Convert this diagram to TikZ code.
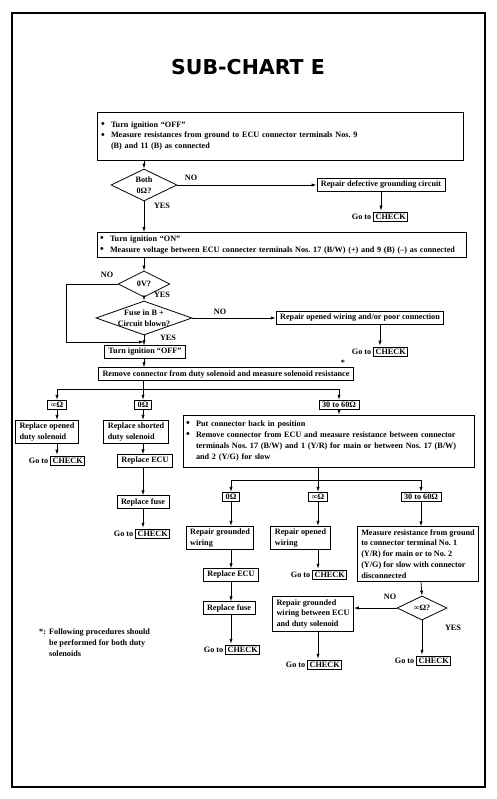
\documentclass[tikz,border=0pt]{standalone}
\usepackage{fontspec}
\setmainfont{Liberation Serif}
\newfontfamily\titlefont{DejaVu Sans}
\usetikzlibrary{arrows.meta,positioning,shapes.geometric,calc}
\newcommand\chartfont{\fontsize{8.2}{10.9}\selectfont\bfseries}
\newcommand\blt{\makebox[10pt][l]{\raisebox{-0.3pt}{\scalebox{1.3}{\textbullet}}}}
\newcommand\bltind{\hspace*{10pt}}
\setlength\fboxsep{1.5pt}
\setlength\fboxrule{0.8pt}
\frenchspacing
\tikzset{
  stepbox/.style={
    rectangle, draw, line width=0.8pt, font=\chartfont,
    align=left, inner xsep=4pt, inner ysep=2.5pt
  },
  valbox/.style={
    rectangle, draw, line width=0.8pt, font=\chartfont,
    inner xsep=3pt, inner ysep=2pt
  },
  decision/.style={
    diamond, draw, line width=0.8pt, font=\chartfont,
    align=center, inner sep=-3pt, aspect=#1
  },
  decision/.default=2.5,
  gotonode/.style={font=\chartfont, inner sep=1pt},
  lbl/.style={font=\chartfont, inner sep=1pt},
  arr/.style={-{Latex[length=5pt,width=3.2pt]}, line width=0.7pt},
}

\begin{document}
\begin{tikzpicture}[x=1pt,y=-1pt]
  \useasboundingbox (0,0) rectangle (496,799);
  \draw[line width=2.8pt] (12,13) rectangle (485,787);
  \node[font=\titlefont\bfseries\fontsize{20.5}{24}\selectfont] (title) at (248,67) {SUB-CHART E};

  % ground check
  \node[stepbox, text width=358pt, minimum height=48pt] (gndmeas) at (280,136) {%
    \blt Turn ignition “OFF”\\
    \blt Measure resistances from ground to ECU connector terminals Nos. 9\\
    \bltind (B) and 11 (B) as connected};
  \node[decision=2, minimum width=66pt, minimum height=32pt] (both) at (144,185) {Both\\0Ω?};
  \node[stepbox] (gndfix) at (381,185) {Repair defective grounding circuit};
  \node[gotonode] (goto1) at (380,217) {Go to \fbox{CHECK}};
  \node[lbl] (no1) at (191,178) {NO};
  \node[lbl] (yes1) at (162,206) {YES};

  \draw[arr] (gndmeas.south -| both) -- (both.north);
  \draw[arr] (both.east) -- (gndfix.west);
  \draw[arr] (gndfix.south) -- (gndfix.south |- goto1.north);

  % voltage check
  \node[stepbox, inner xsep=3pt, text width=363pt, minimum height=25pt] (volt) at (281.5,245) {%
    \blt Turn ignition “ON”\\
    \blt Measure voltage between ECU connecter terminals Nos. 17 (B/W) (+) and 9 (B) (–) as connected};
  \node[decision=2, minimum width=52pt, minimum height=26pt] (zerov) at (144,284) {0V?};
  \node[decision=2.8, minimum width=96pt, minimum height=34pt] (fuse) at (144,318) {Fuse in B +\\Circuit blown?};
  \node[stepbox] (openfix) at (360,318) {Repair opened wiring and/or poor connection};
  \node[gotonode] (goto2) at (380,352) {Go to \fbox{CHECK}};
  \node[stepbox] (ignoff) at (145,352) {Turn ignition “OFF”};
  \coordinate (loopend) at (144,342);
  \node[lbl] (no2) at (107,275) {NO};
  \node[lbl] (yes2) at (162,295) {YES};
  \node[lbl] (no3) at (220,312) {NO};
  \node[lbl] (yes3) at (168,338) {YES};

  \draw[arr] (both.south) -- (both.south |- volt.north);
  \draw[arr] (volt.south -| zerov) -- (zerov.north);
  \draw[arr] (zerov.south) -- (fuse.north);
  \draw[arr] (zerov.west) -- ++(-51,0) |- (loopend);
  \draw[arr] (fuse.east) -- (openfix.west);
  \draw[arr] (openfix.south -| goto2) -- (goto2.north);
  \draw[arr] (fuse.south) -- (ignoff.north -| fuse);

  % solenoid resistance
  \node[stepbox] (solres) at (226,374) {Remove connector from duty solenoid and measure solenoid resistance};
  \node[lbl] (star) at (343,363) {*};
  \coordinate (bus1) at (0,389);
  \node[valbox] (inf1) at (57,405) {∞Ω};
  \node[valbox] (zero1) at (143,405) {0Ω};
  \node[valbox] (ok1) at (339,405) {30 to 60Ω};

  \draw[arr] (ignoff.south -| fuse) -- (fuse |- solres.north);
  \draw (solres.south -| zero1) -- (zero1 |- bus1);
  \draw[arr] (zero1 |- bus1) -| (inf1.north);
  \draw[arr] (zero1 |- bus1) -| (ok1.north);
  \draw[arr] (zero1 |- bus1) -- (zero1.north);

  % open / shorted solenoid
  \node[stepbox] (opensol) at (47,432) {Replace opened\\duty solenoid};
  \node[gotonode] (goto3) at (57,461) {Go to \fbox{CHECK}};
  \node[stepbox] (shortsol) at (136,432) {Replace shorted\\duty solenoid};
  \node[stepbox] (ecu1) at (145,461) {Replace ECU};
  \node[stepbox] (fuse1) at (143,502) {Replace fuse};
  \node[gotonode] (goto4) at (142,534) {Go to \fbox{CHECK}};

  \draw[arr] (inf1.south) -- (inf1.south |- opensol.north);
  \draw[arr] (inf1 |- opensol.south) -- (inf1 |- goto3.north);
  \draw[arr] (zero1.south) -- (zero1.south |- shortsol.north);
  \draw[arr] (zero1 |- shortsol.south) -- (zero1 |- ecu1.north);
  \draw[arr] (zero1 |- ecu1.south) -- (zero1 |- fuse1.north);
  \draw[arr] (zero1 |- fuse1.south) -- (zero1 |- goto4.north);

  % wiring check
  \node[stepbox, inner xsep=3pt, text width=285pt, minimum height=52pt] (conn) at (328.5,441) {%
    \blt Put connector back in position\\
    \blt Remove connector from ECU and measure resistance between connector\\
    \bltind terminals Nos. 17 (B/W) and 1 (Y/R) for main or between Nos. 17 (B/W)\\
    \bltind and 2 (Y/G) for slow};
  \coordinate (bus2) at (0,480);
  \node[valbox] (zero2) at (231,497) {0Ω};
  \node[valbox] (inf2) at (318,497) {∞Ω};
  \node[valbox] (ok2) at (421,497) {30 to 60Ω};

  \draw[arr] (ok1.south) -- (ok1.south |- conn.north);
  \draw (conn.south -| inf2) -- (inf2 |- bus2);
  \draw[arr] (inf2 |- bus2) -| (zero2.north);
  \draw[arr] (inf2 |- bus2) -| (ok2.north);
  \draw[arr] (inf2 |- bus2) -- (inf2.north);

  \node[stepbox] (grndw) at (220,538) {Repair grounded\\wiring};
  \node[stepbox] (ecu2) at (231,575) {Replace ECU};
  \node[stepbox] (fuse2) at (229,608) {Replace fuse};
  \node[gotonode] (goto5) at (232,650) {Go to \fbox{CHECK}};
  \node[stepbox] (openw) at (300.5,538) {Repair opened\\wiring};
  \node[gotonode] (goto6) at (319,575) {Go to \fbox{CHECK}};
  \node[stepbox] (gndres) at (418,554) {Measure resistance from ground\\
    to connector terminal No. 1\\(Y/R) for main or to No. 2\\
    (Y/G) for slow with connector\\disconnected};
  \node[decision=2, minimum width=50pt, minimum height=24pt] (infq) at (422,608) {∞Ω?};
  \node[stepbox] (harness) at (313,614) {Repair grounded\\wiring between ECU\\and duty solenoid};
  \node[gotonode] (goto7) at (314,665) {Go to \fbox{CHECK}};
  \node[gotonode] (goto8) at (423,661) {Go to \fbox{CHECK}};
  \node[lbl] (no4) at (390,597) {NO};
  \node[lbl] (yes4) at (453,628) {YES};

  \draw[arr] (zero2.south) -- (zero2.south |- grndw.north);
  \draw[arr] (zero2 |- grndw.south) -- (zero2 |- ecu2.north);
  \draw[arr] (zero2 |- ecu2.south) -- (zero2 |- fuse2.north);
  \draw[arr] (zero2 |- fuse2.south) -- (zero2 |- goto5.north);
  \draw[arr] (inf2.south) -- (inf2.south |- openw.north);
  \draw[arr] (inf2 |- openw.south) -- (inf2 |- goto6.north);
  \draw[arr] (ok2.south) -- (ok2.south |- gndres.north);
  \draw[arr] (ok2 |- gndres.south) -- (infq.north);
  \draw[arr] (infq.west) -- (infq.west -| harness.east);
  \draw[arr] (harness.south -| inf2) -- (inf2 |- goto7.north);
  \draw[arr] (infq.south) -- (infq.south |- goto8.north);

  % footnote
  \node[lbl, align=left, anchor=north west] (fnote) at (38,628) {%
    \makebox[10pt][l]{*:}Following procedures should\\
    \bltind be performed for both duty\\
    \bltind solenoids};
\end{tikzpicture}
\end{document}
